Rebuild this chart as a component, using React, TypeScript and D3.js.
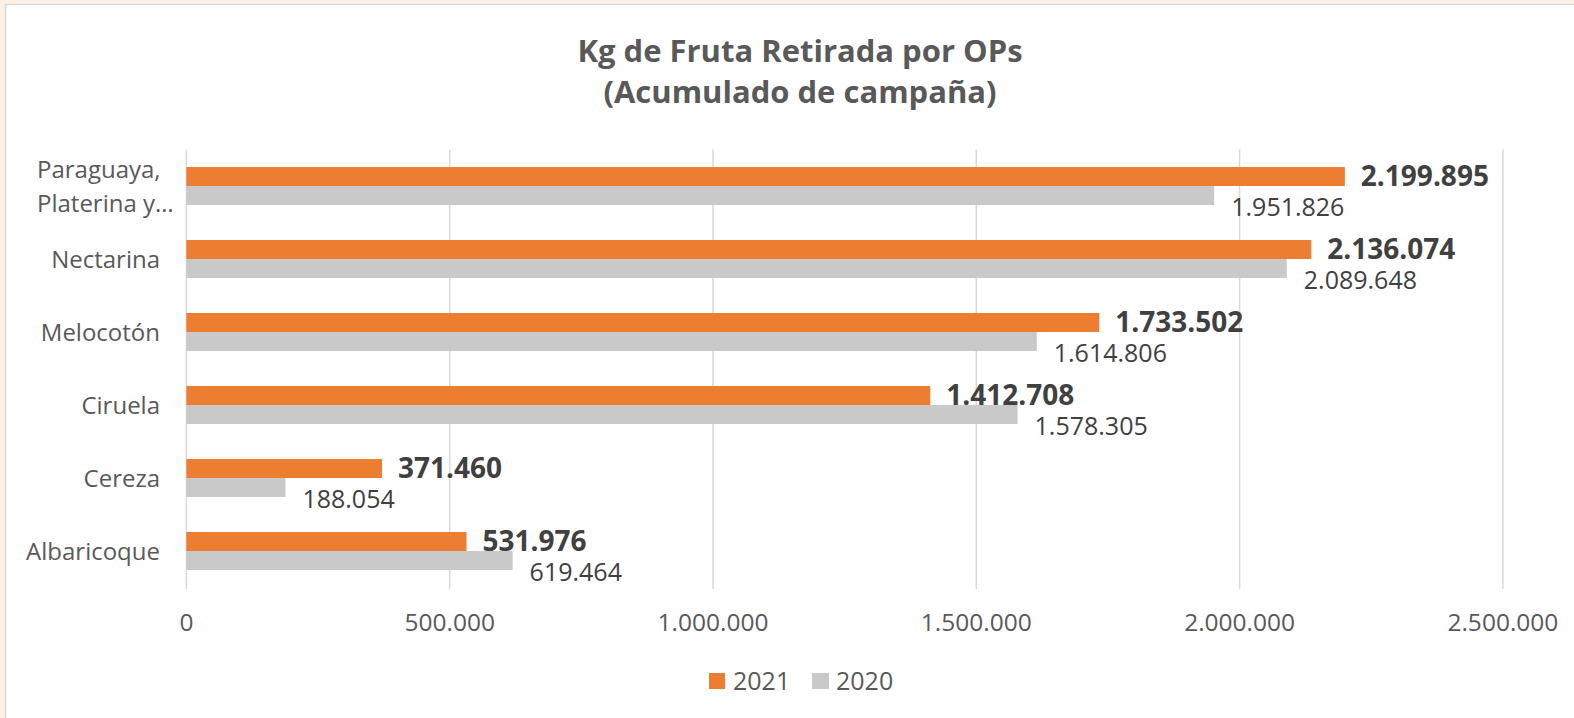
import React, { useEffect } from "react";
import * as d3 from "d3";

const categories = [
  "Paraguaya, Platerina y...",
  "Nectarina",
  "Melocotón",
  "Ciruela",
  "Cereza",
  "Albaricoque",
];
const values2021 = [2199895, 2136074, 1733502, 1412708, 371460, 531976];
const values2020 = [1951826, 2089648, 1614806, 1578305, 188054, 619464];
const series = ["2021", "2020"];
const ticks = [0, 500000, 1000000, 1500000, 2000000, 2500000];

const W = 1574;
const H = 718;
const font = "'Open Sans', sans-serif";
const orange = "#ED7D31";
const grey = "#C9C9C9";

// 1.234.567 style
const fmt = (v: number) =>
  d3.format(",")(v).replace(/,/g, ".");

export default function App() {
  useEffect(() => {
    document.body.style.margin = "0";
  }, []);

  const x = d3.scaleLinear().domain([0, 2500000]).range([186.4, 1502.9]);
  const y = d3
    .scaleBand()
    .domain(categories)
    .range([149.5, 587.5])
    .paddingInner(0.48)
    .paddingOuter(0.24);
  const sub = d3.scaleBand().domain(series).range([0, y.bandwidth()]);

  const rows = categories.map((c, i) => ({
    cat: c,
    v21: values2021[i],
    v20: values2020[i],
  }));

  return (
    <svg width={W} height={H} style={{ display: "block" }}>
      <rect x={0} y={0} width={W} height={H} fill="#FDF1E6" />
      <rect
        x={5.5}
        y={4.5}
        width={W + 10}
        height={H + 10}
        fill="#ffffff"
        stroke="#D9D9D9"
        strokeWidth={1.5}
      />

      <g fontFamily={font} fontWeight="bold" fontSize={31} fill="#595959" textAnchor="middle">
        <text x={800} y={62}>Kg de Fruta Retirada por OPs</text>
        <text x={800} y={103}>(Acumulado de campaña)</text>
      </g>

      {ticks.map((t) => (
        <g key={t}>
          <line
            x1={x(t)}
            x2={x(t)}
            y1={149.5}
            y2={589}
            stroke="#D9D9D9"
            strokeWidth={1.5}
          />
          <text
            x={x(t)}
            y={631}
            textAnchor="middle"
            fontFamily={font}
            fontSize={24.5}
            fill="#595959"
          >
            {fmt(t)}
          </text>
        </g>
      ))}

      {rows.map((r) => {
        const y0 = y(r.cat) as number;
        const cy = y0 + y.bandwidth() / 2;
        const yo = y0 + (sub("2021") as number);
        const yg = y0 + (sub("2020") as number);
        const wrapped = r.cat === categories[0];
        const lines = wrapped ? ["Paraguaya,", "Platerina y…"] : [r.cat];
        return (
          <g key={r.cat}>
            <rect x={x(0)} y={yo} width={x(r.v21) - x(0)} height={sub.bandwidth()} fill={orange} />
            <rect x={x(0)} y={yg} width={x(r.v20) - x(0)} height={sub.bandwidth()} fill={grey} />
            <text
              x={x(r.v21) + 16}
              y={yo + sub.bandwidth() / 2 + 9.5}
              fontFamily={font}
              fontWeight="bold"
              fontSize={28}
              fill="#404040"
            >
              {fmt(r.v21)}
            </text>
            <text
              x={x(r.v20) + 17}
              y={yg + sub.bandwidth() / 2 + 21}
              fontFamily={font}
              fontSize={25}
              fill="#404040"
            >
              {fmt(r.v20)}
            </text>
            {lines.map((l, k) => (
              <text
                key={l}
                x={wrapped ? 37 : 160}
                y={cy + 8.5 + (k - (lines.length - 1) / 2) * 34}
                textAnchor={wrapped ? "start" : "end"}
                fontFamily={font}
                fontSize={24}
                fill="#595959"
              >
                {l}
              </text>
            ))}
          </g>
        );
      })}

      <g fontFamily={font} fontSize={25} fill="#595959">
        <rect x={709} y={673} width={16} height={16} fill={orange} />
        <text x={733} y={690}>2021</text>
        <rect x={812} y={673} width={17} height={16} fill={grey} />
        <text x={836} y={690}>2020</text>
      </g>
    </svg>
  );
}
